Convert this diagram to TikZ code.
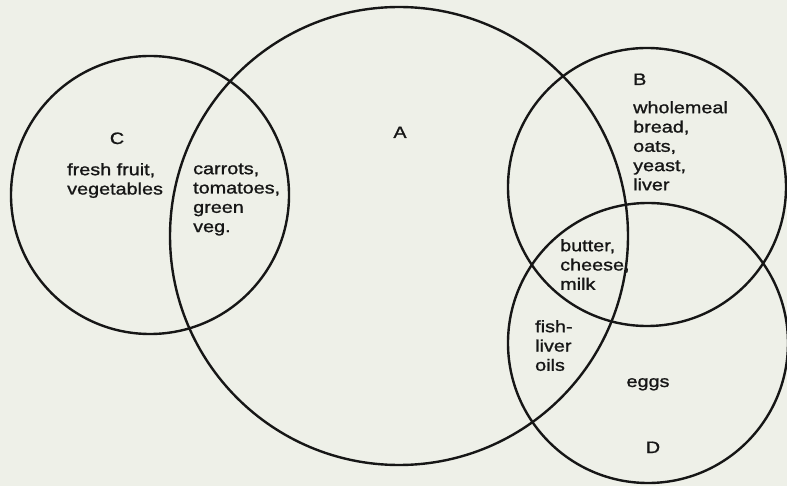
\documentclass[tikz,border=0pt]{standalone}
\usepackage{fontspec}
\setmainfont{Liberation Sans}[FakeStretch=1.2,FakeBold=1.2]
\definecolor{paper}{RGB}{238,240,232}
\definecolor{ink}{RGB}{22,22,22}
\begin{document}
\begin{tikzpicture}[x=1pt,y=-1pt,
  ring/.style={draw=ink,line width=2.4pt},
  lbl/.style={text=ink,inner sep=0pt,font=\fontsize{16.5}{19.3}\selectfont},
  blk/.style={lbl,anchor=north west,align=left}]
\fill[paper] (0,0) rectangle (787,486);
\useasboundingbox (0,0) rectangle (787,486);
% circles
\draw[ring] (150,195) circle[radius=139pt];
\draw[ring] (399,236) circle[radius=229pt];
\draw[ring] (647,187) circle[radius=139pt];
\draw[ring] (648,343) circle[radius=140pt];
% labels
\node[lbl,anchor=base] (lc) at (117,144) {C};
\node[lbl,anchor=base] (la) at (400,138) {A};
\node[lbl,anchor=base west] (lb) at (633,85) {B};
\node[lbl,anchor=base] (ld) at (653,453) {D};
\newcommand{\firstline}{\rule{0pt}{14pt}}
\node[blk] (tc) at (67,161) {\firstline fresh fruit,\\vegetables};
\node[blk] (tac) at (193,160) {\firstline carrots,\\tomatoes,\\green\\veg.};
\node[blk] (tb) at (633,99) {\firstline wholemeal\\bread,\\oats,\\yeast,\\liver};
\node[blk] (tabd) at (560,237) {\firstline butter,\\cheese,\\milk};
\node[blk] (tad) at (535,318) {\firstline fish-\\liver\\oils};
\node[lbl,anchor=base] (td) at (648,387) {eggs};
\end{tikzpicture}
\end{document}
